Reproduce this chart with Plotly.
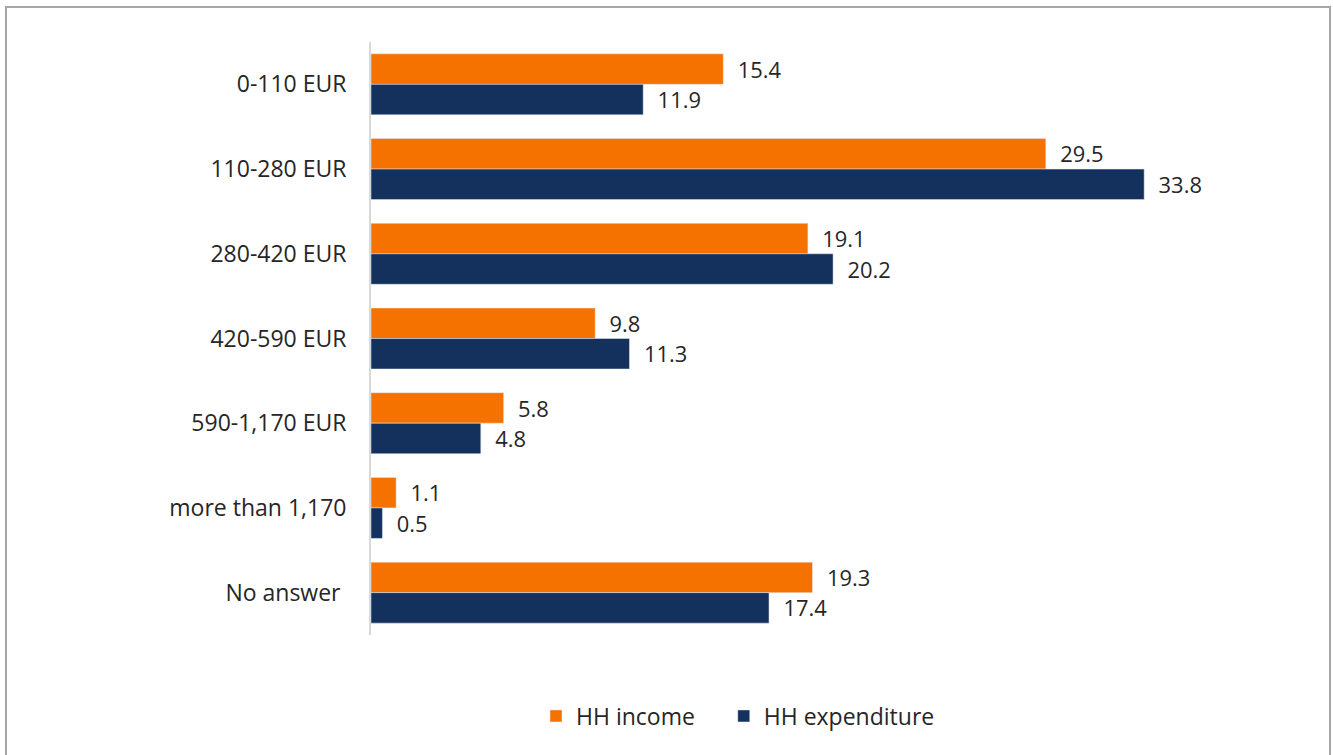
import plotly.graph_objects as go

categories = ["0-110 EUR", "110-280 EUR", "280-420 EUR", "420-590 EUR",
              "590-1,170 EUR", "more than 1,170", "No answer "]
hh_income = [15.4, 29.5, 19.1, 9.8, 5.8, 1.1, 19.3]
hh_expenditure = [11.9, 33.8, 20.2, 11.3, 4.8, 0.5, 17.4]

FONT = "Open Sans"
TXT = "#262626"
FS = 23
PAD = "\u00a0\u00a0"

fig = go.Figure()
fig.add_trace(go.Bar(
    y=categories, x=hh_income, orientation="h", name="HH income\u00a0\u00a0\u00a0\u00a0",
    marker=dict(color="#F57200"),
    texttemplate=PAD + "%{x:.1f}", textposition="outside",
    textfont=dict(family=FONT, size=FS, color=TXT), cliponaxis=False,
))
fig.add_trace(go.Bar(
    y=categories, x=hh_expenditure, orientation="h", name="HH expenditure",
    marker=dict(color="#13315C"),
    texttemplate=PAD + "%{x:.1f}", textposition="outside",
    textfont=dict(family=FONT, size=FS, color=TXT), cliponaxis=False,
))

L, R, T, B = 371, 47, 42, 120
W, H = 1333, 755
pw = W - L - R
ph = H - T - B

def px_x(x):
    return (x - L) / pw

def px_y(y):
    return (H - B - y) / ph

fig.add_shape(type="rect", xref="paper", yref="paper",
              x0=px_x(6), x1=px_x(1330), y0=px_y(770), y1=px_y(7),
              line=dict(color="#A6A6A6", width=2), fillcolor="rgba(0,0,0,0)",
              layer="below")

fig.update_layout(
    width=W, height=H,
    margin=dict(l=L, r=R, t=T, b=B),
    paper_bgcolor="white", plot_bgcolor="white",
    barmode="group", bargap=0.28, bargroupgap=0,
    font=dict(family=FONT, size=FS, color=TXT),
    showlegend=True,
    legend=dict(orientation="h", x=px_x(738), xanchor="center", y=px_y(716), yanchor="middle",
                font=dict(family=FONT, size=FS, color=TXT), traceorder="normal",
                itemwidth=30),
    xaxis=dict(range=[0, 40], showgrid=False, zeroline=False, showticklabels=False,
               showline=False, ticks=""),
    yaxis=dict(autorange="reversed", showgrid=False, zeroline=False, showline=True,
               linecolor="#D9D9D9", linewidth=2, ticks="", ticksuffix="\u00a0\u00a0\u00a0",
               tickfont=dict(family=FONT, size=FS, color=TXT)),
)

fig.write_html("out.html", config={"displayModeBar": False},
               post_script="document.body.style.margin='0';document.body.style.overflow='hidden';")
